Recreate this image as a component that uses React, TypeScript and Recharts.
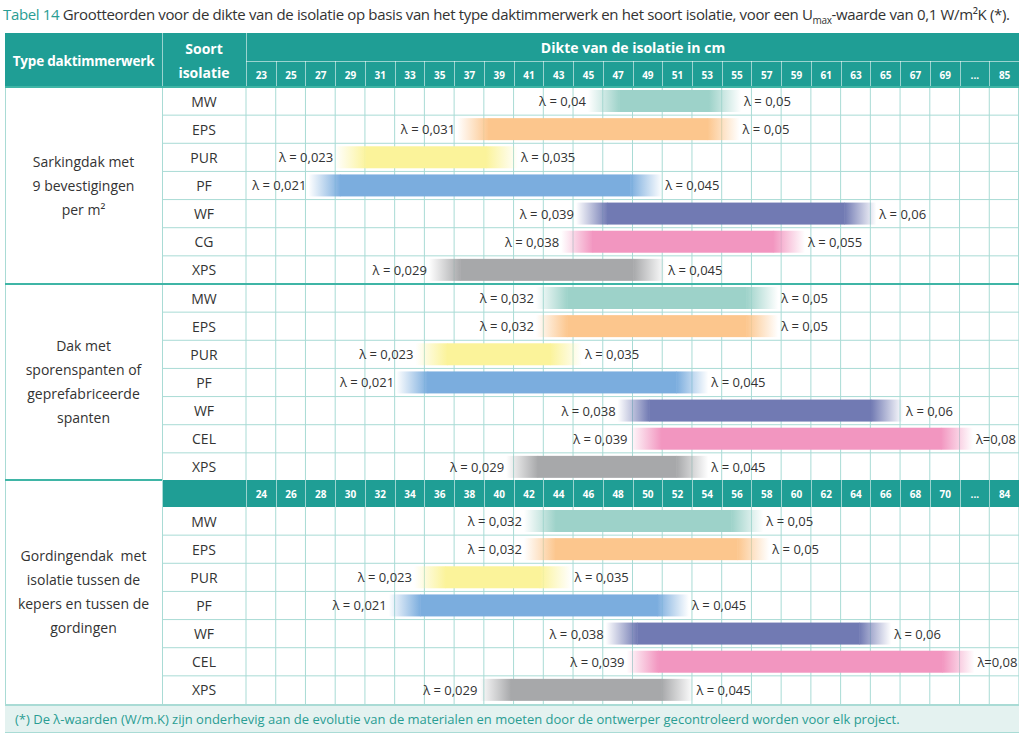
import React from 'react';
import { BarChart, Bar, XAxis, YAxis, CartesianGrid } from 'recharts';

// kolomlabels (dikte in cm)
const ticksTop = ['23', '25', '27', '29', '31', '33', '35', '37', '39', '41', '43', '45', '47', '49', '51', '53', '55', '57', '59', '61', '63', '65', '67', '69', '...', '85'];
const ticksBottom = ['24', '26', '28', '30', '32', '34', '36', '38', '40', '42', '44', '46', '48', '50', '52', '54', '56', '58', '60', '62', '64', '66', '68', '70', '...', '84'];

// Sarkingdak
const sarkMaterials = ['MW', 'EPS', 'PUR', 'PF', 'WF', 'CG', 'XPS'];
const sarkStart = [45.0, 36.2, 28.0, 26.2, 44.2, 43.2, 34.3];
const sarkEnd = [55.3, 55.2, 40.3, 50.0, 64.4, 59.6, 50.2];
const sarkLow = ['λ = 0,04', 'λ = 0,031', 'λ = 0,023', 'λ = 0,021', 'λ = 0,039', 'λ = 0,038', 'λ = 0,029'];
const sarkHigh = ['λ = 0,05', 'λ = 0,05', 'λ = 0,035', 'λ = 0,045', 'λ = 0,06', 'λ = 0,055', 'λ = 0,045'];

// Dak met sporenspanten
const sporMaterials = ['MW', 'EPS', 'PUR', 'PF', 'WF', 'CEL', 'XPS'];
const sporStart = [41.5, 41.5, 33.4, 32.1, 47.0, 47.8, 39.5];
const sporEnd = [57.8, 57.8, 44.6, 53.1, 66.2, 70.9, 53.1];
const sporLow = ['λ = 0,032', 'λ = 0,032', 'λ = 0,023', 'λ = 0,021', 'λ = 0,038', 'λ = 0,039', 'λ = 0,029'];
const sporHigh = ['λ = 0,05', 'λ = 0,05', 'λ = 0,035', 'λ = 0,045', 'λ = 0,06', 'λ=0,08', 'λ = 0,045'];

// Gordingendak
const gordMaterials = ['MW', 'EPS', 'PUR', 'PF', 'WF', 'CEL', 'XPS'];
const gordStart = [41.7, 41.7, 34.3, 32.6, 47.2, 48.6, 38.7];
const gordEnd = [57.8, 58.2, 44.9, 52.8, 66.4, 72.0, 53.1];
const gordLow = ['λ = 0,032', 'λ = 0,032', 'λ = 0,023', 'λ = 0,021', 'λ = 0,038', 'λ = 0,039', 'λ = 0,029'];
const gordHigh = ['λ = 0,05', 'λ = 0,05', 'λ = 0,035', 'λ = 0,045', 'λ = 0,06', 'λ=0,08', 'λ = 0,045'];

const materialColors: Record<string, string> = {
  MW: '#9dd2c9',
  EPS: '#fcc68d',
  PUR: '#fbf39a',
  PF: '#7badde',
  WF: '#717ab3',
  CG: '#f296c0',
  CEL: '#f296c0',
  XPS: '#a7a8aa',
};

const TEAL = '#1f9e95';
const GRID = '#a9dbd5';
const FONT = '"Open Sans", "Noto Sans", sans-serif';

const CHART_W = 857;
const CAT_W = 84;
const ROW_H = 197;
const NCOLS = 26;

const buildRows = (key: string, mats: string[], s: number[], e: number[], lo: string[], hi: string[]) =>
  mats.map((m, i) => ({ key, mat: m, range: [s[i], e[i]], lo: lo[i], hi: hi[i], color: materialColors[m] }));

const RangeShape = (props: any) => {
  const { x, y, width, height, payload, index } = props;
  if (!payload) return null;
  const color = payload.color;
  const fade = Math.min(32, width / 3);
  const id = `${payload.key}-${index}`;
  const cy = y + height / 2;
  return (
    <g>
      <defs>
        <linearGradient id={`in-${id}`} x1="0" x2="1" y1="0" y2="0">
          <stop offset="0" stopColor={color} stopOpacity={0} />
          <stop offset="1" stopColor={color} stopOpacity={1} />
        </linearGradient>
        <linearGradient id={`out-${id}`} x1="0" x2="1" y1="0" y2="0">
          <stop offset="0" stopColor={color} stopOpacity={1} />
          <stop offset="1" stopColor={color} stopOpacity={0} />
        </linearGradient>
      </defs>
      <rect x={x} y={y} width={fade} height={height} fill={`url(#in-${id})`} />
      <rect x={x + fade - 0.5} y={y} width={width - 2 * fade + 1} height={height} fill={color} />
      <rect x={x + width - fade} y={y} width={fade} height={height} fill={`url(#out-${id})`} />
      <text x={x - 2} y={cy} textAnchor="end" dominantBaseline="central" fontSize={13} fill="#333" fontFamily={FONT}>
        {payload.lo}
      </text>
      <text x={x + width + 3} y={cy} textAnchor="start" dominantBaseline="central" fontSize={13} fill="#333" fontFamily={FONT}>
        {payload.hi}
      </text>
    </g>
  );
};

const CatTick = (props: any) => {
  const { y, payload } = props;
  return (
    <text x={CAT_W / 2} y={y} textAnchor="middle" dominantBaseline="central" fontSize={14} fill="#333" fontFamily={FONT}>
      {payload.value}
    </text>
  );
};

const Section: React.FC<{ rows: any[]; domain: [number, number] }> = ({ rows, domain }) => (
  <BarChart
    width={CHART_W}
    height={ROW_H}
    data={rows}
    layout="vertical"
    margin={{ top: 0, right: 0, bottom: 0, left: 0 }}
    barCategoryGap={3}
    style={{ overflow: 'visible' }}
  >
    <CartesianGrid
      stroke={GRID}
      x={0}
      y={0}
      width={CHART_W}
      height={ROW_H}
      horizontalCoordinatesGenerator={() => rows.map((_, i) => (i * ROW_H) / rows.length).slice(1)}
      verticalCoordinatesGenerator={() =>
        Array.from({ length: NCOLS }, (_, j) => CAT_W + (j * (CHART_W - CAT_W)) / NCOLS)
      }
    />
    <XAxis type="number" domain={domain} hide allowDataOverflow />
    <YAxis type="category" dataKey="mat" width={CAT_W} axisLine={false} tickLine={false} interval={0} tick={<CatTick />} />
    <Bar dataKey="range" shape={<RangeShape />} isAnimationActive={false} />
  </BarChart>
);

const TickRow: React.FC<{ labels: string[]; left: number; top: number; width: number; height: number }> = ({ labels, left, top, width, height }) => {
  const cw = width / labels.length;
  return (
    <>
      {labels.map((t, i) => (
        <div
          key={t + i}
          style={{
            position: 'absolute',
            left: left + i * cw,
            top,
            width: cw,
            height,
            borderLeft: '1px solid rgba(255,255,255,0.55)',
            boxSizing: 'border-box',
            color: '#fff',
            fontSize: 10,
            fontWeight: 700,
            display: 'flex',
            alignItems: 'center',
            justifyContent: 'center',
          }}
        >
          {t}
        </div>
      ))}
    </>
  );
};

const LeftCell: React.FC<{ top: number; height: number; lines: string[] }> = ({ top, height, lines }) => (
  <div
    style={{
      position: 'absolute',
      left: 5,
      top,
      width: 157,
      height,
      display: 'flex',
      flexDirection: 'column',
      alignItems: 'center',
      justifyContent: 'center',
      fontSize: 14,
      lineHeight: '24px',
      color: '#333',
    }}
  >
    {lines.map((l) => (
      <div key={l} style={{ whiteSpace: 'pre' }}>{l}</div>
    ))}
  </div>
);

const App: React.FC = () => {
  const sark = buildRows('s1', sarkMaterials, sarkStart, sarkEnd, sarkLow, sarkHigh);
  const spor = buildRows('s2', sporMaterials, sporStart, sporEnd, sporLow, sporHigh);
  const gord = buildRows('s3', gordMaterials, gordStart, gordEnd, gordLow, gordHigh);

  return (
    <div style={{ position: 'absolute', left: 0, top: 0, width: 1023, height: 735, background: '#fff', fontFamily: FONT, overflow: 'hidden' }}>
      <div style={{ position: 'absolute', left: 3, top: 4, fontSize: 15, color: '#333', whiteSpace: 'nowrap', letterSpacing: -0.35 }}>
        <span style={{ color: '#2a9d93' }}>Tabel 14</span> Grootteorden voor de dikte van de isolatie op basis van het type daktimmerwerk en het soort isolatie, voor een U
        <sub style={{ fontSize: 10 }}>max</sub>-waarde van 0,1 W/m²K (*).
      </div>

      {/* kop */}
      <div style={{ position: 'absolute', left: 5, top: 33, width: 1014, height: 55, background: TEAL }} />
      <div style={{ position: 'absolute', left: 162, top: 33, width: 1, height: 55, background: 'rgba(255,255,255,0.55)' }} />
      <div style={{ position: 'absolute', left: 246, top: 61, width: 773, height: 1, background: 'rgba(255,255,255,0.55)' }} />
      <div style={{ position: 'absolute', left: 5, top: 33, width: 157, height: 55, display: 'flex', alignItems: 'center', justifyContent: 'center', color: '#fff', fontWeight: 700, fontSize: 13.5, letterSpacing: -0.2 }}>
        Type daktimmerwerk
      </div>
      <div style={{ position: 'absolute', left: 162, top: 33, width: 84, height: 55, display: 'flex', flexDirection: 'column', alignItems: 'center', justifyContent: 'center', color: '#fff', fontWeight: 700, fontSize: 14, lineHeight: '24px' }}>
        <div>Soort</div>
        <div>isolatie</div>
      </div>
      <div style={{ position: 'absolute', left: 246, top: 33, width: 773, height: 28, display: 'flex', alignItems: 'center', justifyContent: 'center', color: '#fff', fontWeight: 700, fontSize: 14, borderLeft: '1px solid rgba(255,255,255,0.55)', boxSizing: 'border-box' }}>
        Dikte van de isolatie in cm
      </div>
      <TickRow labels={ticksTop} left={246} top={61} width={773} height={27} />

      {/* secties */}
      <div style={{ position: 'absolute', left: 162, top: 87 }}>
        <Section rows={sark} domain={[22, 74]} />
      </div>
      <div style={{ position: 'absolute', left: 162, top: 284 }}>
        <Section rows={spor} domain={[22, 74]} />
      </div>
      <div style={{ position: 'absolute', left: 162, top: 480, width: 857, height: 27, background: TEAL }} />
      <TickRow labels={ticksBottom} left={246} top={480} width={773} height={27} />
      <div style={{ position: 'absolute', left: 162, top: 507 }}>
        <Section rows={gord} domain={[23, 75]} />
      </div>

      <LeftCell top={87} height={197} lines={['Sarkingdak met', '9 bevestigingen', 'per m²']} />
      <LeftCell top={284} height={196} lines={['Dak met', 'sporenspanten of', 'geprefabriceerde', 'spanten']} />
      <LeftCell top={480} height={224} lines={['Gordingendak  met', 'isolatie tussen de', 'kepers en tussen de', 'gordingen']} />

      {/* lijnen */}
      <div style={{ position: 'absolute', left: 5, top: 87, width: 1, height: 617, background: GRID }} />
      <div style={{ position: 'absolute', left: 162, top: 87, width: 1, height: 617, background: GRID }} />
      <div style={{ position: 'absolute', left: 1018, top: 87, width: 1, height: 197, background: GRID }} />
      <div style={{ position: 'absolute', left: 1018, top: 284, width: 1, height: 196, background: 'rgba(169,219,213,0.6)' }} />
      <div style={{ position: 'absolute', left: 1018, top: 507, width: 1, height: 197, background: 'rgba(169,219,213,0.6)' }} />
      <div style={{ position: 'absolute', left: 5, top: 86, width: 1014, height: 2, background: '#3fb5a6' }} />
      <div style={{ position: 'absolute', left: 5, top: 283, width: 1014, height: 2, background: '#3fb5a6' }} />
      <div style={{ position: 'absolute', left: 5, top: 479, width: 157, height: 2, background: '#3fb5a6' }} />

      {/* voetnoot */}
      <div style={{ position: 'absolute', left: 5, top: 704, width: 1014, height: 29, background: '#e4f2f0', borderTop: `2px solid ${GRID}`, borderBottom: `1px solid ${GRID}`, boxSizing: 'border-box', color: '#2a9d93', fontSize: 13, display: 'flex', alignItems: 'center', paddingLeft: 10 }}>
        (*) De λ-waarden (W/m.K) zijn onderhevig aan de evolutie van de materialen en moeten door de ontwerper gecontroleerd worden voor elk project.
      </div>
    </div>
  );
};

export default App;
